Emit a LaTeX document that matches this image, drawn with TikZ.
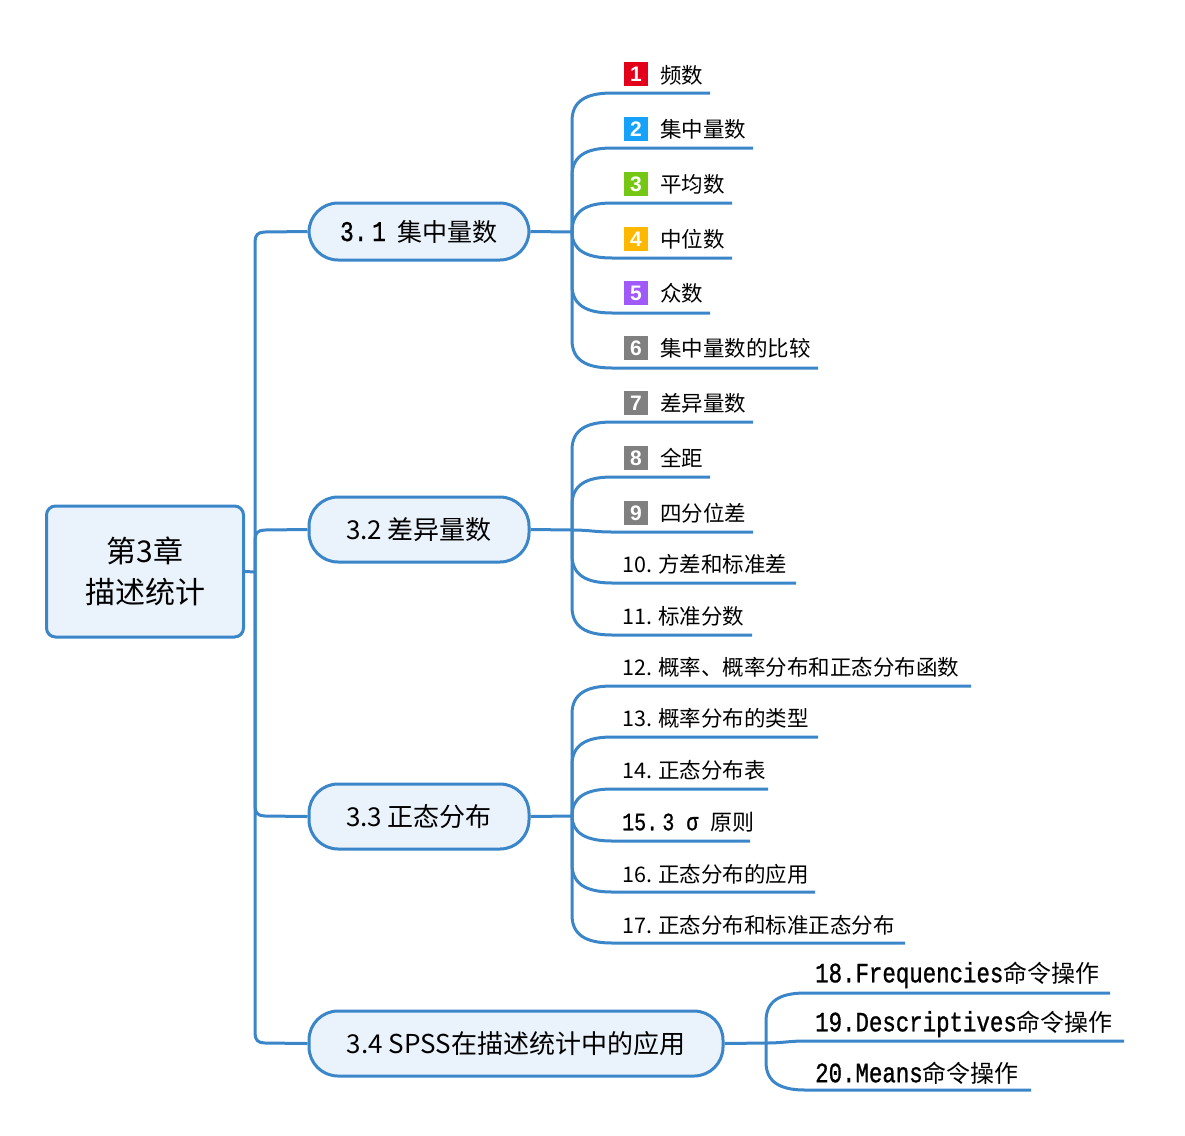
\documentclass[tikz,border=0pt]{standalone}
\usepackage{fontspec}
\setmainfont{Noto Sans CJK SC}
\newfontfamily\monof[FakeBold=1,FakeStretch=0.8]{Liberation Mono}
\newfontfamily\iconf{Liberation Sans}
\definecolor{lineblue}{RGB}{58,134,200}
\definecolor{boxfill}{RGB}{234,242,251}
\definecolor{ic1}{RGB}{226,0,26}
\definecolor{ic2}{RGB}{22,162,250}
\definecolor{ic3}{RGB}{118,198,20}
\definecolor{ic4}{RGB}{255,184,0}
\definecolor{ic5}{RGB}{160,90,250}
\definecolor{ic6}{RGB}{128,128,128}
\tikzset{
  conn/.style={draw=lineblue, line width=3pt},
  rootbox/.style={draw=lineblue, fill=boxfill, line width=3pt, rounded corners=9pt,
    minimum width=197pt, minimum height=131pt, align=center, inner sep=0pt,
    font=\fontsize{30}{41}\selectfont},
  secbox/.style={draw=lineblue, fill=boxfill, line width=3pt, rounded corners=29pt,
    inner sep=0pt, font=\fontsize{26}{30}\selectfont},
  leaftext/.style={anchor=west, inner sep=0pt, font=\fontsize{21.5}{24}\selectfont},
  icon/.style={minimum size=24pt, inner sep=0pt, text=white,
    font=\iconf\bfseries\fontsize{21}{21}\selectfont},
}
\begin{document}
\begin{tikzpicture}[x=1pt,y=-1pt]
\useasboundingbox (0,0) rectangle (1185,1135);

% root and sections
\node[rootbox] (root) at (145,571.5) {第3章\\描述统计};
\node[secbox, minimum width=220pt, minimum height=57pt] (b1) at (419,231.5)
  {{\monof\fontsize{28.5}{30}\selectfont 3.\,1}\hspace{12pt}{\fontsize{25}{30}\selectfont 集中量数}};
\node[secbox, minimum width=220pt, minimum height=65pt] (b2) at (419,529.5) {3.2 差异量数};
\node[secbox, minimum width=220pt, minimum height=65pt] (b3) at (419,816.5) {3.3 正态分布};
\node[secbox, minimum width=414pt, minimum height=65pt] (b4) at (516,1043.5) {3.4 SPSS在描述统计中的应用};

% main trunk
\coordinate (m) at (255,572);
\draw[conn] (root.east) -- (m);
\draw[conn] (m) -- (255,242) .. controls (255,235) and (258,232) .. (265,232) -- (b1.west);
\draw[conn] (m) -- (255,540) .. controls (255,533) and (258,530) .. (265,530) -- (b2.west);
\draw[conn] (m) -- (255,806) .. controls (255,813) and (258,816) .. (265,816) -- (b3.west);
\draw[conn] (m) -- (255,1033) .. controls (255,1040) and (258,1043) .. (265,1043) -- (b4.west);

% junctions
\coordinate (s1) at (572,232);
\coordinate (s2) at (572,530);
\coordinate (s3) at (572,816);
\coordinate (s4) at (766,1043);
\draw[conn] (b1.east) -- (s1);
\draw[conn] (b2.east) -- (s2);
\draw[conn] (b3.east) -- (s3);
\draw[conn] (b4.east) -- (s4);

% ---- section 1 leaves
\node[icon, fill=ic1] (i1) at (636,74) {1};
\node[icon, fill=ic2] (i2) at (636,129) {2};
\node[icon, fill=ic3] (i3) at (636,184) {3};
\node[icon, fill=ic4] (i4) at (636,239) {4};
\node[icon, fill=ic5] (i5) at (636,293) {5};
\node[icon, fill=ic6] (i6) at (636,348) {6};
\node[leaftext] (l1) at (660,75) {频数};
\node[leaftext] (l2) at (660,129) {集中量数};
\node[leaftext] (l3) at (660,184) {平均数};
\node[leaftext] (l4) at (660,239) {中位数};
\node[leaftext] (l5) at (660,293) {众数};
\node[leaftext] (l6) at (660,348) {集中量数的比较};
\coordinate (u1) at (612,93);  \coordinate (e1) at (710,93);
\coordinate (u2) at (612,148); \coordinate (e2) at (753,148);
\coordinate (u3) at (612,203); \coordinate (e3) at (732,203);
\coordinate (u4) at (612,258); \coordinate (e4) at (732,258);
\coordinate (u5) at (612,313); \coordinate (e5) at (710,313);
\coordinate (u6) at (612,368); \coordinate (e6) at (818,368);
\draw[conn] (s1) -- (572,121) .. controls (572,101) and (586,93) .. (u1) -- (e1);
\draw[conn] (s1) -- (572,176) .. controls (572,156) and (586,148) .. (u2) -- (e2);
\draw[conn] (s1) .. controls (572,211) and (586,203) .. (u3) -- (e3);
\draw[conn] (s1) .. controls (572,250) and (586,258) .. (u4) -- (e4);
\draw[conn] (s1) -- (572,285) .. controls (572,305) and (586,313) .. (u5) -- (e5);
\draw[conn] (s1) -- (572,340) .. controls (572,360) and (586,368) .. (u6) -- (e6);

% ---- section 2 leaves
\node[icon, fill=ic6] (i7) at (636,403) {7};
\node[icon, fill=ic6] (i8) at (636,458) {8};
\node[icon, fill=ic6] (i9) at (636,513) {9};
\node[leaftext] (l7) at (660,403) {差异量数};
\node[leaftext] (l8) at (660,458) {全距};
\node[leaftext] (l9) at (660,513) {四分位差};
\node[leaftext] (l10) at (622,564) {10. 方差和标准差};
\node[leaftext] (l11) at (622,616) {11. 标准分数};
\coordinate (u7) at (612,422);  \coordinate (e7) at (753,422);
\coordinate (u8) at (612,477);  \coordinate (e8) at (710,477);
\coordinate (u9) at (612,532);  \coordinate (e9) at (753,532);
\coordinate (u10) at (612,583); \coordinate (e10) at (796,583);
\coordinate (u11) at (612,635); \coordinate (e11) at (752,635);
\draw[conn] (s2) -- (572,450) .. controls (572,430) and (586,422) .. (u7) -- (e7);
\draw[conn] (s2) -- (572,505) .. controls (572,485) and (586,477) .. (u8) -- (e8);
\draw[conn] (s2) .. controls (590,530) and (594,532) .. (u9) -- (e9);
\draw[conn] (s2) -- (572,555) .. controls (572,575) and (586,583) .. (u10) -- (e10);
\draw[conn] (s2) -- (572,607) .. controls (572,627) and (586,635) .. (u11) -- (e11);

% ---- section 3 leaves
\node[leaftext] (l12) at (622,667) {12. 概率、概率分布和正态分布函数};
\node[leaftext] (l13) at (622,718) {13. 概率分布的类型};
\node[leaftext] (l14) at (622,770) {14. 正态分布表};
\node[leaftext] (l15) at (622,822) {{\monof\fontsize{25}{26}\selectfont 15.\,3 σ }{\fontsize{22}{24}\selectfont 原则}};
\node[leaftext] (l16) at (622,874) {16. 正态分布的应用};
\node[leaftext] (l17) at (622,925) {17. 正态分布和标准正态分布};
\coordinate (u12) at (612,686); \coordinate (e12) at (971,686);
\coordinate (u13) at (612,737); \coordinate (e13) at (818,737);
\coordinate (u14) at (612,789); \coordinate (e14) at (768,789);
\coordinate (u15) at (612,841); \coordinate (e15) at (750,841);
\coordinate (u16) at (612,892); \coordinate (e16) at (815,892);
\coordinate (u17) at (612,943); \coordinate (e17) at (905,943);
\draw[conn] (s3) -- (572,714) .. controls (572,694) and (586,686) .. (u12) -- (e12);
\draw[conn] (s3) -- (572,765) .. controls (572,745) and (586,737) .. (u13) -- (e13);
\draw[conn] (s3) .. controls (572,797) and (586,789) .. (u14) -- (e14);
\draw[conn] (s3) .. controls (572,833) and (586,841) .. (u15) -- (e15);
\draw[conn] (s3) -- (572,864) .. controls (572,884) and (586,892) .. (u16) -- (e16);
\draw[conn] (s3) -- (572,915) .. controls (572,935) and (586,943) .. (u17) -- (e17);

% ---- section 4 leaves
\node[leaftext] (l18) at (815,975) {{\monof\fontsize{28}{30}\selectfont 18.Frequencies}{\fontsize{24}{26}\selectfont 命令操作}};
\node[leaftext] (l19) at (815,1024) {{\monof\fontsize{28}{30}\selectfont 19.Descriptives}{\fontsize{24}{26}\selectfont 命令操作}};
\node[leaftext] (l20) at (815,1073) {{\monof\fontsize{28}{30}\selectfont 20.Means}{\fontsize{24}{26}\selectfont 命令操作}};
\coordinate (u18) at (805,993);  \coordinate (e18) at (1110,993);
\coordinate (u19) at (805,1041); \coordinate (e19) at (1124,1041);
\coordinate (u20) at (805,1090); \coordinate (e20) at (1031,1090);
\draw[conn] (s4) -- (766,1021) .. controls (766,1001) and (780,993) .. (u18) -- (e18);
\draw[conn] (s4) .. controls (784,1043) and (788,1041) .. (u19) -- (e19);
\draw[conn] (s4) -- (766,1062) .. controls (766,1082) and (780,1090) .. (u20) -- (e20);
\end{tikzpicture}
\end{document}
